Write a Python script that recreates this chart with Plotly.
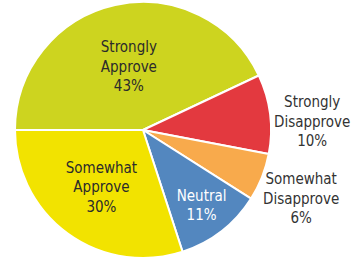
import plotly.graph_objects as go

labels = ["Strongly<br>Approve", "Strongly<br>Disapprove", "Somewhat<br>Disapprove", "Neutral", "Somewhat<br>Approve"]
values = [43, 10, 6, 11, 30]
colors = ["#CDD41F", "#E3393F", "#F8AA4C", "#5387BF", "#F2E300"]
text_pos = ["inside", "none", "none", "inside", "inside"]
text_colors = ["#2b2b2b", "#333333", "#333333", "#ffffff", "#2b2b2b"]
# outside label anchors (pixel positions of label centres)
outside_label_px = {1: (312, 121), 2: (301, 198)}

W, H = 356, 261
cx, cy, r = 143, 130, 128
FONT = "DejaVu Sans Condensed, Liberation Sans Narrow, Arial Narrow, sans-serif"

fig = go.Figure(go.Pie(
    labels=labels,
    values=values,
    sort=False,
    direction="clockwise",
    rotation=-90,
    marker=dict(colors=colors, line=dict(color="white", width=2)),
    texttemplate="%{label}<br>%{value}%",
    textposition=text_pos,
    insidetextorientation="horizontal",
    textfont=dict(family=FONT, size=15, color=text_colors),
    hoverinfo="none",
    showlegend=False,
    domain=dict(x=[(cx - r) / W, (cx + r) / W], y=[(H - cy - r) / H, (H - cy + r) / H]),
))
for i, (px, py) in outside_label_px.items():
    fig.add_annotation(
        x=px / W, y=1 - py / H, xref="paper", yref="paper",
        text=f"{labels[i]}<br>{values[i]}%", showarrow=False,
        font=dict(family=FONT, size=15, color=text_colors[i]),
        align="center", xanchor="center", yanchor="middle",
    )
fig.update_layout(
    width=W, height=H,
    margin=dict(l=0, r=0, t=0, b=0),
    paper_bgcolor="white",
    uniformtext=dict(minsize=15, mode="show"),
)
fig.write_html("out.html", config={"displayModeBar": False},
               post_script="document.body.style.margin='0';document.body.style.overflow='hidden';")
